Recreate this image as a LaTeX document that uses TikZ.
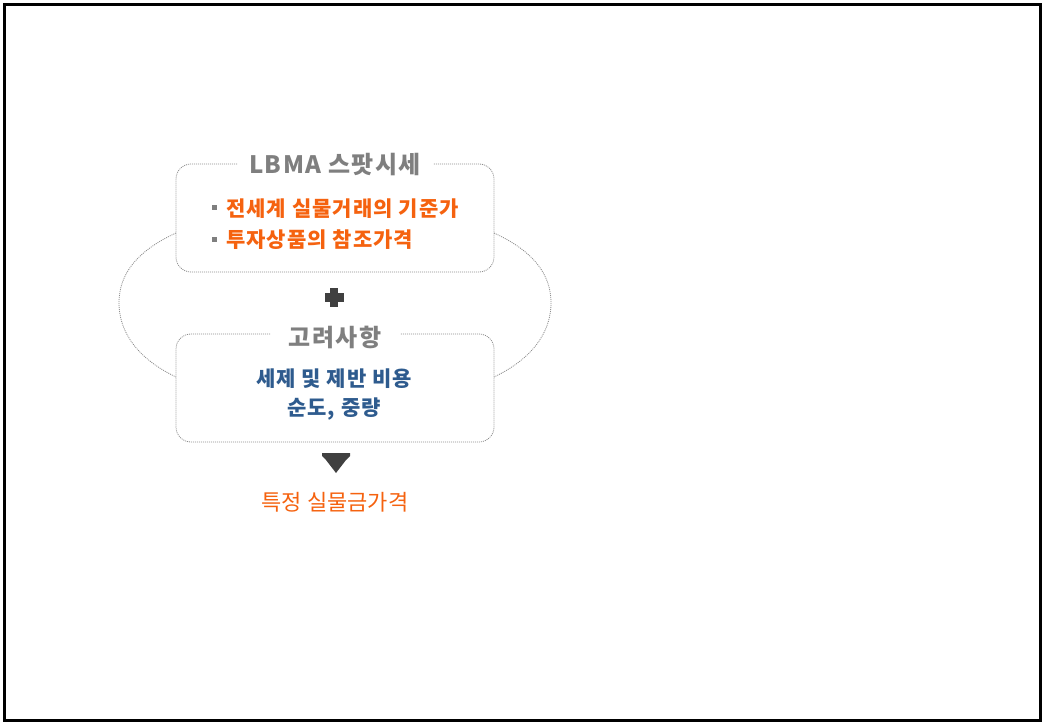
\documentclass[tikz,border=0pt]{standalone}
\usepackage{fontspec}
\newfontfamily\kr{Noto Sans CJK KR}
\newfontfamily\krsp{Noto Sans CJK KR}[LetterSpace=5]
\newfontfamily\krtt{Noto Sans CJK KR}[LetterSpace=6]
\definecolor{ttlgray}{HTML}{7F7F7F}
\definecolor{korange}{HTML}{F5620F}
\definecolor{kblue}{HTML}{2E5B8E}
\definecolor{dotgray}{HTML}{8C8C8C}
\definecolor{darkg}{HTML}{404040}
\begin{document}
\begin{tikzpicture}[x=1pt,y=-1pt,
  dotline/.style={draw=dotgray, line width=0.8pt, dash pattern=on 1pt off 1pt},
  ttl/.style={font=\krtt\bfseries\fontsize{24}{28}\selectfont, text=ttlgray, inner sep=0pt},
  otext/.style={font=\krsp\bfseries\fontsize{21}{25}\selectfont, text=korange, inner sep=0pt, anchor=west},
  btext/.style={font=\krsp\bfseries\fontsize{21}{25}\selectfont, text=kblue, inner sep=0pt},
  bsq/.style={fill=ttlgray, draw=none, minimum size=5pt, inner sep=0pt}]
\useasboundingbox (0,0) rectangle (1042,722);
\draw[line width=3pt, black] (4.5,4.5) rectangle (1040,720);
% top box
\draw[dotline, rounded corners=15pt] (237,164) -- (176,164) -- (176,272) -- (494,272) -- (494,164) -- (433,164);
\node[ttl] (t1) at (335,165) {LBMA 스팟시세};
\node[bsq] (s1) at (214.5,208) {};
\node[otext] (o1) at (226,209) {전세계 실물거래의 기준가};
\node[bsq] (s2) at (214.5,239.5) {};
\node[otext] (o2) at (226,240) {투자상품의 참조가격};
% plus
\fill[darkg] (330,288) rectangle (338,307);
\fill[darkg] (324.5,293.5) rectangle (343.5,301.5);
\coordinate (plus) at (334,298);
% bottom box
\draw[dotline, rounded corners=15pt] (270,334) -- (176,334) -- (176,442) -- (494,442) -- (494,334) -- (400,334);
\node[ttl] (t2) at (335,337) {고려사항};
\node[btext] (b1) at (334,379) {세제 및 제반 비용};
\node[btext] (b2) at (334,409) {순도, 중량};
% side arcs
\coordinate (la) at (176,233);
\coordinate (lb) at (176,377);
\coordinate (ra) at (494,233);
\coordinate (rb) at (494,377);
\draw[dotline] (la) .. controls (128,255) and (119,282) .. (119,303) .. controls (119,327) and (132,356) .. (lb);
\draw[dotline] (ra) .. controls (542,255) and (551,282) .. (551,303) .. controls (551,327) and (538,356) .. (rb);
% down arrow
\fill[darkg] (322,453) -- (350,453) -- (350,456) -- (346,460) -- (336,473) -- (326,460) -- (322,456) -- cycle;
% result
\node[font=\kr\fontsize{22}{26}\selectfont, text=korange, inner sep=0pt] (res) at (335,502) {특정 실물금가격};
\end{tikzpicture}
\end{document}
